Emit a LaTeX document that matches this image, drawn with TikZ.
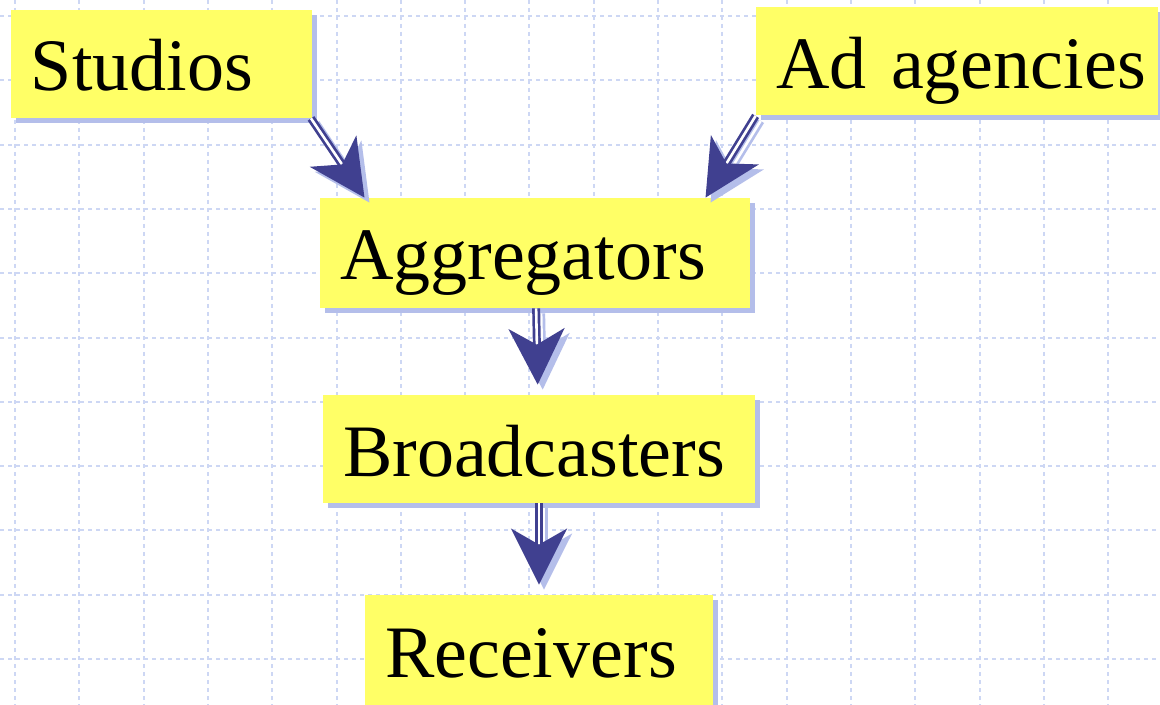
\documentclass[tikz,border=0pt]{standalone}
\usepackage{fontspec}
\setmainfont{Liberation Serif}
\usepackage{xcolor}
\usepackage{tikz}
\usetikzlibrary{arrows.meta,positioning,calc,shadows}
\hyphenpenalty=10000
\definecolor{Xyellow}{RGB}{255,255,102}
\definecolor{Xshade}{RGB}{180,190,234}
\definecolor{Xnavy}{RGB}{64,64,144}
\definecolor{Xgrid}{RGB}{205,215,244}
\tikzset{
  flow/.style={-{Stealth[length=28pt, width=28pt, inset=8pt]}, draw=Xnavy, double=white, double distance=1.3pt, line width=1.35pt},
  flowshade/.style={flow, draw=Xshade, transform canvas={xshift=2.5pt, yshift=-2.5pt}},
  labelbox/.style={fill=Xyellow, drop shadow={shadow xshift=2.5pt, shadow yshift=-2.5pt, fill=Xshade, opacity=1}, font=\fontsize{37}{40}\selectfont, align=left, inner xsep=10pt, inner ysep=0pt, minimum height=54pt, text height=27pt, text depth=0pt},
  gridline/.style={draw=Xgrid, line width=1pt, dash pattern=on 2pt off 2pt}
}

\begin{document}
\begin{tikzpicture}[x=0.5pt, y=-0.5pt]
  \useasboundingbox[fill=white] (0,0) rectangle (1160,705);
  % dotted grid
  \foreach \i in {0,...,17} \draw[gridline] (15+64.3*\i,0) -- (15+64.3*\i,705);
  \foreach \j in {0,...,10} \draw[gridline] (0,16+64.3*\j) -- (1160,16+64.3*\j);

  \node[labelbox, text width=130.5pt] (studios) at (161.5,64) {Studios};
  \node[labelbox, text width=181pt] (adag) at (957,61.5) {\mbox{Ad agencies}};
  \node[labelbox, text width=195pt, minimum height=55pt] (agg) at (535,253) {Aggregators};
  \node[labelbox, text width=196pt] (bcast) at (539,449) {Broadcasters};
  \node[labelbox, text width=154pt, minimum height=55pt] (recv) at (539,650) {Receivers};

  % shadow first, then the arrow
  \foreach \s in {flowshade, flow} {
    \draw[\s] (studios.-20) -- (agg.162);
    \draw[\s] (adag.south west) -- (agg.18);
    \draw[\s, shorten >=5pt] (agg) -- (bcast);
    \draw[\s, shorten >=5pt] (bcast) -- (recv);
  }
\end{tikzpicture}
\end{document}
